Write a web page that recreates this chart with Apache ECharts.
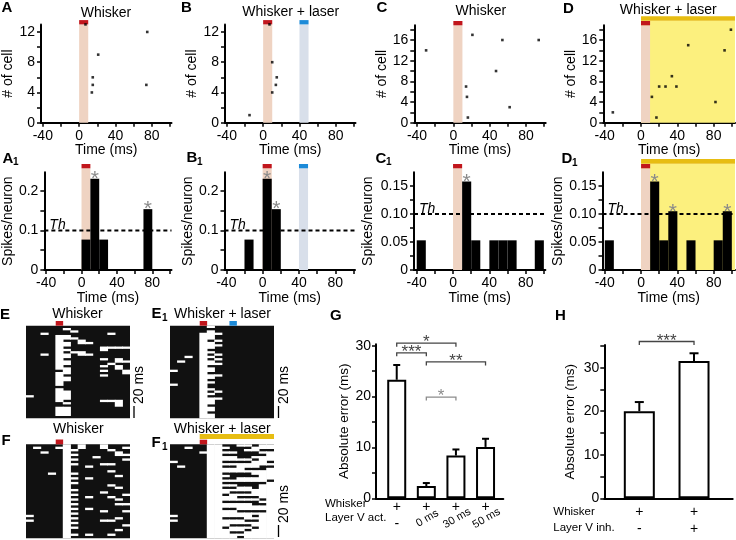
<!DOCTYPE html>
<html><head><meta charset="utf-8">
<script src="https://cdn.jsdelivr.net/npm/echarts@6/dist/echarts.min.js"></script>
<style>html,body{margin:0;padding:0;background:#fff}#c{width:736px;height:540px}</style>
</head><body><div id="c"></div>
<script>
// ================= DATA =================
const timeTicks = [-40,-20,0,20,40,60,80,100];
const timeLabels = [-40,0,40,80];
const cellTicks13 = [0,2,4,6,8,10,12];
const cellLabels13 = [0,4,8,12];
const cellTicks19 = [0,2,4,6,8,10,12,14,16,18];
const cellLabels19 = [0,4,8,12,16];
const rateTicksAB = [0,0.05,0.1,0.15,0.2];
const rateLabelsAB = [0,0.1,0.2];
const rateTicksCD = [0,0.025,0.05,0.075,0.1,0.125,0.15];
const rateLabelsCD = [0,0.05,0.1,0.15];
const errTicksG = [0,5,10,15,20,25,30];
const errTicksH = [0,5,10,15,20,25,30,35];
const errLabels = [0,10,20,30];

const binWidth = 10;
const rasterStart = -40;
const threshold = 0.1;
const whiskerWin = [0,10];
const laserWinB = [40,50];
const laserWinD = [0,140];
const laserWinF1 = [0,100];

// raster dots: [time (ms), cell #]
const dotsA = [[7,13],[21,9],[15,6],[15,5],[14,4],[75,12],[74,5]];
const dotsB = [[-15,1],[7,13],[10,8],[15,6],[14,5],[10,4]];
const dotsC = [[-30,14],[21,17],[54,16],[94,16],[47,10],[14,7],[15,5],[16,1],[62,3]];
const dotsD = [[-31,2],[12,5],[17,1],[20,7],[27,7],[34,9],[39,7],[52,15],[82,4],[92,14],[99,18]];

// PSTH bins: [bin start (ms), spikes/neuron]
const histA1 = [[0,0.077],[10,0.231],[20,0.077],[70,0.154]];
const histB1 = [[-20,0.077],[0,0.231],[10,0.154]];
const histC1 = [[-40,0.053],[10,0.158],[20,0.053],[40,0.053],[50,0.053],[60,0.053],[90,0.053]];
const histD1 = [[-40,0.053],[10,0.158],[20,0.053],[30,0.105],[50,0.053],[80,0.053],[90,0.105]];
const starBinsA1 = [10,70];
const starBinsB1 = [0,10];
const starBinsC1 = [10];
const starBinsD1 = [10,30,90];

// trial rasters (rows = trials, columns = 10 ms bins from -40 ms)
const rasterE = [
"00000000000000","00000100000000","00000010000000","00100000000100","00001100000000",
"00001110000000","00001001000000","00001101100000","00001100000000","00001000001111",
"00001100001000","00001011000000","00101101100000","00001100000000","00001000001010",
"00001100000011","00001100000100","00001000001010","00001100000010","00000100001001",
"00001100000001","00001000001000","00001100000000","00001100000000","00001000000000",
"00001000000000","00000000000000","00001000000000","00001100000000","00001100000000",
"10001100000000","00001100000000","00001000001110","00000100000010","00000000000010",
"00001100000000","00001100000000","00001100000000","00001100000000","00000000000000"];
const rasterE1 = [
"00000100000000","00000000000000","00000100000000","00001110000000","00001100000000",
"00001100000000","00001010000000","00001100000000","00001110000000","00001100000000",
"00001000000000","00001100000000","00001010000000","00101100000000","00001010000000",
"01001100000000","00001110000000","00001000000000","00001100000000","10001100000000",
"00001000000000","00001110000000","00001100000000","00001000000000","00001100000000",
"10001000000000","00001000000000","00001100000000","00001010000000","00001100000000",
"00001000000000","00001110000000","00001100000000","00001100000000","00001000000000",
"00001100000000","00001100000000","00001000000000","00001100000000","00001100000000"];
const rasterF = [
"00000101001000","01001101001001","00000110000100","00100100000010","00000110000011",
"00000100010000","00000110000001","00000100000000","00000110001100","00000100100000",
"00000100000000","00000100000100","00010110000000","00000100000010","00000110100000",
"00000100000000","00000110000000","00000100000100","00000100000010","00000110000000",
"00000100001000","00000110000001","00000100100100","00000110000010","00000100000000",
"00000110000011","00000100000000","00000110100000","00000100001001","00000110000000",
"10000100000000","00000110000010","10000100001100","00000110000000","00000100000001",
"00000110000000","00000100000010","00000100000000","00000110100100","00000100000000"];
const rasterF1 = [
"00000110011011","00100111000111","00000110001100","00001111100011","00000110000001",
"00000111100111","00000111111011","10000110000110","00000111111111","01000110011100",
"00000111110001","00000111111111","00000110000111","00000111000011","00000110011111",
"00000111111110","00000110000001","00000111100011","00000110011011","00000111111111",
"00000111000111","00000110111111","00000111100011","00000111111101","00000110000011",
"00000111111001","00000111111111","00000110011111","00000111100001","00000111111111",
"10000111111011","00000110001111","10000111110011","00000111111111","00000111000111",
"00000110111011","00000111110111","00000111001111","00000111111111","00000111101111"];

// summary bars
const gMean = [23.3, 2.4, 8.4, 10.1];
const gSem  = [2.9, 0.6, 1.2, 1.6];
const gWhiskerSigns = ['+','+','+','+'];
const gLayerSigns = ['-','0 ms','30 ms','50 ms'];
const gBrackets = [[0,2,30.5,'*'],[0,1,28.6,'***'],[1,3,26.8,'**'],[1,2,19.9,'*']];
const hMean = [20.0, 31.5];
const hSem  = [2.1, 1.8];
const hWhiskerSigns = ['+','+'];
const hLayerSigns = ['-','+'];
const hBrackets = [[0,1,36.0,'***']];

// ================= STYLE / LAYOUT =================
const FF = '"Liberation Sans", Arial, Helvetica, sans-serif';
const fnt = (s, w, st) => (st||'normal') + ' ' + (w||'normal') + ' ' + s + 'px ' + FF;
const C_PEACH = '#efd3c2', C_RED = '#c1161c', C_BLUEBAND = '#d8dfea', C_BLUE = '#1c8ad8',
      C_YELLOW = '#fcf07e', C_GOLD = '#e7bd12', C_STAR = '#8a8a8a';

const G = [], X = [], Y = [], S = [], GR = [];
const ext = [];
function addGrid(box, xa, ya, gOpt) {
  const gi = G.length;
  G.push(Object.assign({left:box[0], top:box[1], width:box[2], height:box[3]}, gOpt||{}));
  X.push(Object.assign({gridIndex:gi}, xa));
  Y.push(Object.assign({gridIndex:gi}, ya));
  ext.push({x:[xa.min, xa.max], y:[ya.min, ya.max]});
  return gi;
}
function valAxis(min, max, ticks, labels, fmt, name, nameGap, margin) {
  return {
    type:'value', min, max,
    axisLine:{show:true, onZero:false, lineStyle:{color:'#000', width:2}},
    axisTick:{show:true, inside:false, length:4, lineStyle:{color:'#000', width:1.5}, customValues: ticks},
    axisLabel:{show:true, color:'#000', fontSize:14, fontFamily:FF, margin: margin||6, customValues: labels,
               formatter: fmt || (v => String(v))},
    splitLine:{show:false},
    name: name||'', nameLocation:'middle', nameGap: nameGap||20,
    nameTextStyle:{color:'#000', fontSize:14, fontFamily:FF}
  };
}
function hiddenAxis(min, max, inverse) {
  return {type:'value', min, max, inverse: !!inverse, show:false, splitLine:{show:false}};
}
const fmtRateAB = v => (v === 0 ? '0' : (+v).toFixed(1));
const fmtRateCD = v => (v === 0 ? '0' : (+v).toFixed(2));

function stimLayer(gi, wins, bands, bars, above, barH, z) {
  const ex = ext[gi];
  S.push({type:'custom', xAxisIndex:gi, yAxisIndex:gi, z, clip:false, silent:true,
    data: wins.map((w,i)=>[w[0], w[1], i]),
    renderItem:(p, api)=>{
      const i = api.value(2);
      const x0 = Math.max(api.value(0), ex.x[0]), x1 = Math.min(api.value(1), ex.x[1]);
      const a = api.coord([x0, ex.y[1]]), b = api.coord([x1, ex.y[0]]);
      const top = Math.min(a[1], b[1]) - above, bot = Math.max(a[1], b[1]);
      const ch = [];
      if (bands[i]) ch.push({type:'rect', shape:{x:a[0], y:top, width:b[0]-a[0], height:bot-top}, style:{fill:bands[i]}});
      if (bars[i]) ch.push({type:'rect', shape:{x:a[0], y:top-barH, width:b[0]-a[0], height:barH}, style:{fill:bars[i]}});
      return {type:'group', children: ch};
    }});
}
function dotLayer(gi, dots) {
  S.push({type:'scatter', xAxisIndex:gi, yAxisIndex:gi, data:dots, symbol:'rect', symbolSize:2.6,
          itemStyle:{color:'#000'}, z:6, silent:true});
}
function histLayer(gi, hist, starBins) {
  const ex = ext[gi];
  S.push({type:'custom', xAxisIndex:gi, yAxisIndex:gi, z:5, silent:true, data:hist,
    renderItem:(p, api)=>{
      const s = api.value(0), v = api.value(1);
      const a = api.coord([s, v]), b = api.coord([s + binWidth, 0]);
      return {type:'rect', shape:{x:a[0], y:a[1], width:b[0]-a[0], height:b[1]-a[1]}, style:{fill:'#000'}};
    }});
  const stars = starBins.map(s => [s + binWidth/2, hist.find(h => h[0] === s)[1]]);
  S.push({type:'custom', xAxisIndex:gi, yAxisIndex:gi, z:7, clip:false, silent:true, data:stars,
    renderItem:(p, api)=>{
      const c = api.coord([api.value(0), api.value(1)]);
      return {type:'text', x:c[0], y:c[1] + 11, style:{text:'*', fill:C_STAR, font:fnt(21),
        align:'center', verticalAlign:'bottom', textAlign:'center', textVerticalAlign:'bottom'}};
    }});
  S.push({type:'custom', xAxisIndex:gi, yAxisIndex:gi, z:8, clip:false, silent:true,
    data:[[ex.x[0], ex.x[1], threshold]],
    renderItem:(p, api)=>{
      const a = api.coord([api.value(0), api.value(2)]), b = api.coord([api.value(1), api.value(2)]);
      return {type:'group', children:[
        {type:'line', shape:{x1:a[0], y1:a[1], x2:b[0], y2:b[1]}, style:{stroke:'#000', lineWidth:1.8, lineDash:[4,3]}},
        {type:'text', x:a[0] + 5, y:a[1] + 2, style:{text:'Th', fill:'#000', font:fnt(14,'normal','italic'),
          align:'left', verticalAlign:'bottom', textAlign:'left', textVerticalAlign:'bottom'}}
      ]};
    }});
}
function rasterLayer(gi, rows) {
  // merge vertically consecutive active bins of the same column into one run: [bin start, first row, last row + 1]
  const runs = [];
  const nCols = rows[0].length;
  for (let k = 0; k < nCols; k++) {
    let start = -1;
    for (let r = 0; r <= rows.length; r++) {
      const on = r < rows.length && rows[r][k] === '1';
      if (on && start < 0) start = r;
      if (!on && start >= 0) { runs.push([rasterStart + k*binWidth, start, r]); start = -1; }
    }
  }
  S.push({type:'custom', xAxisIndex:gi, yAxisIndex:gi, z:4, silent:true, data:runs,
    renderItem:(p, api)=>{
      const a = api.coord([api.value(0), api.value(1)]), b = api.coord([api.value(0) + binWidth, api.value(2)]);
      return {type:'rect', shape:{x:a[0] - 0.35, y:Math.min(a[1],b[1]), width:b[0]-a[0] + 0.7, height:Math.abs(b[1]-a[1])},
              style:{fill:'#fff'}};
    }});
}
function barLayer(gi, mean, sem, bw, cap, brackets, signs1, signs2, rowOff, rotateRow2) {
  S.push({type:'bar', xAxisIndex:gi, yAxisIndex:gi, data: mean.map((v,i)=>[i,v]), barWidth:bw, z:3, silent:true,
          itemStyle:{color:'#fff', borderColor:'#000', borderWidth:2}});
  S.push({type:'custom', xAxisIndex:gi, yAxisIndex:gi, z:4, silent:true, data: mean.map((v,i)=>[i,v,sem[i]]),
    renderItem:(p, api)=>{
      const a = api.coord([api.value(0), api.value(1)]), b = api.coord([api.value(0), api.value(1) + api.value(2)]);
      return {type:'group', children:[
        {type:'line', shape:{x1:a[0], y1:a[1], x2:b[0], y2:b[1]}, style:{stroke:'#000', lineWidth:2}},
        {type:'line', shape:{x1:b[0]-cap/2, y1:b[1], x2:b[0]+cap/2, y2:b[1]}, style:{stroke:'#000', lineWidth:2}}
      ]};
    }});
  S.push({type:'custom', xAxisIndex:gi, yAxisIndex:gi, z:4, clip:false, silent:true,
    data: brackets.map((b,i)=>[b[0], b[1], b[2], i]),
    renderItem:(p, api)=>{
      const i = api.value(3);
      const a = api.coord([api.value(0), api.value(2)]), b = api.coord([api.value(1), api.value(2)]);
      const col = (brackets === gBrackets && i === 3) ? '#8c8c8c' : '#444';
      return {type:'group', children:[
        {type:'polyline', shape:{points:[[a[0], a[1]+3.5],[a[0], a[1]],[b[0], b[1]],[b[0], b[1]+3.5]]}, style:{stroke:col, lineWidth:1.3, fill:null}},
        {type:'text', x:(a[0]+b[0])/2, y:a[1] + 8, style:{text:brackets[i][3], fill:col, font:fnt(17),
          align:'center', verticalAlign:'bottom', textAlign:'center', textVerticalAlign:'bottom'}}
      ]};
    }});
  S.push({type:'custom', xAxisIndex:gi, yAxisIndex:gi, z:4, clip:false, silent:true,
    data: mean.map((v,i)=>[i, 0, i]),
    renderItem:(p, api)=>{
      const i = api.value(2);
      const c = api.coord([api.value(0), 0]);
      const t2 = signs2[i];
      const rot = rotateRow2 && t2.length > 1;
      return {type:'group', children:[
        {type:'text', x:c[0], y:c[1] + rowOff[0], style:{text:signs1[i], fill:'#000', font:fnt(14),
          align:'center', verticalAlign:'middle', textAlign:'center', textVerticalAlign:'middle'}},
        {type:'text', x:c[0] + (rot ? 1 : 0), y:c[1] + rowOff[1] - (rot ? 6 : 0), rotation: rot ? Math.PI/6 : 0,
          style:{text:t2, fill:'#000', font:fnt(rot ? 11 : 14),
          align:'center', verticalAlign:'middle', textAlign:'center', textVerticalAlign:'middle'}}
      ]};
    }});
}
function txt(text, x, y, size, opt) {
  opt = opt || {};
  GR.push({type:'text', x, y, rotation: opt.rotation || 0, z:100, silent:true,
    style:{text, fill: opt.fill || '#000', font: fnt(size, opt.weight, opt.style),
      align: opt.align || 'left', verticalAlign: opt.va || 'middle',
      textAlign: opt.align || 'left', textVerticalAlign: opt.va || 'middle'}});
}
function letter(L, sub, x, y) {
  txt(L, x, y, 15, {weight:'bold'});
  if (sub) txt(sub, x + 10.5, y + 4, 10, {weight:'bold'});
}

// ---------- top row: raster dots ----------
const gA = addGrid([41,24.4,130.5,98.3], valAxis(-42,101.7,timeTicks,timeLabels,null,'Time (ms)',20),
                   valAxis(0,13,cellTicks13,cellLabels13,null,'# of cell',24));
const gB = addGrid([225,24.4,130.5,98.3], valAxis(-42,101.7,timeTicks,timeLabels,null,'Time (ms)',20),
                   valAxis(0,13,cellTicks13,cellLabels13,null,'# of cell',16.5));
const gC = addGrid([414.3,25.3,131.4,97.4], valAxis(-43,101.7,timeTicks,timeLabels,null,'Time (ms)',20),
                   valAxis(0,18.85,cellTicks19,cellLabels19,null,'# of cell',24));
const gD = addGrid([603.3,25.3,131.7,97.4], valAxis(-41.5,103.5,timeTicks,timeLabels,null,'Time (ms)',20),
                   valAxis(0,18.85,cellTicks19,cellLabels19,null,'# of cell',23));
// ---------- second row: PSTHs ----------
const gA1 = addGrid([41,172.3,130.5,97.7], valAxis(-42,101.7,timeTicks,timeLabels,null,'Time (ms)',21),
                    valAxis(0,0.2473,rateTicksAB,rateLabelsAB,fmtRateAB,'Spikes/neuron',24));
const gB1 = addGrid([224.5,172.3,130.5,97.7], valAxis(-42,101.7,timeTicks,timeLabels,null,'Time (ms)',21),
                    valAxis(0,0.2473,rateTicksAB,rateLabelsAB,fmtRateAB,'Spikes/neuron',29.5));
const gC1 = addGrid([414,172.3,131.4,97.7], valAxis(-43,101.7,timeTicks,timeLabels,null,'Time (ms)',21),
                    valAxis(0,0.1745,rateTicksCD,rateLabelsCD,fmtRateCD,'Spikes/neuron',38.5));
const gD1 = addGrid([602.5,172.3,132.5,97.7], valAxis(-42.5,103.5,timeTicks,timeLabels,null,'Time (ms)',21),
                    valAxis(0,0.1745,rateTicksCD,rateLabelsCD,fmtRateCD,'Spikes/neuron',36));
// ---------- rasters ----------
const rg = {show:true, backgroundColor:'#111', borderWidth:0};
const gE  = addGrid([26,325.7,104,92.6], hiddenAxis(-40,100), hiddenAxis(0,rasterE.length,true), rg);
const gE1 = addGrid([170,325.7,104,92.6], hiddenAxis(-40,100), hiddenAxis(0,rasterE1.length,true), rg);
const gF  = addGrid([26,444.3,104,94], hiddenAxis(-40,100), hiddenAxis(0,rasterF.length,true), rg);
const gF1 = addGrid([170,444.3,104,94], hiddenAxis(-40,100), hiddenAxis(0,rasterF1.length,true), rg);
// ---------- summary ----------
const xG = valAxis(-0.7,3.6,[],[],null,'',0); xG.axisTick.show = false; xG.axisLabel.show = false;
const gG = addGrid([376,344.3,127.3,154], xG, valAxis(0,30.27,errTicksG,errLabels,null,'Absolute error (ms)',22,5));
const xH = valAxis(-0.64,1.707,[],[],null,'',0); xH.axisTick.show = false; xH.axisLabel.show = false;
const gH = addGrid([604.3,345,128.4,153.3], xH, valAxis(0,35.2,errTicksH,errLabels,null,'Absolute error (ms)',27,5));
Y[gG].nameTextStyle.fontSize = 13.5; Y[gH].nameTextStyle.fontSize = 13.5;

// layers
stimLayer(gA, [whiskerWin], [C_PEACH], [C_RED], 0, 4.3, 1);
dotLayer(gA, dotsA);
stimLayer(gB, [whiskerWin, laserWinB], [C_PEACH, C_BLUEBAND], [C_RED, C_BLUE], 0, 4.3, 1);
dotLayer(gB, dotsB);
stimLayer(gC, [whiskerWin], [C_PEACH], [C_RED], 0, 4.3, 1);
dotLayer(gC, dotsC);
stimLayer(gD, [laserWinD], [C_YELLOW], [C_GOLD], 4.5, 4.5, 1);
stimLayer(gD, [whiskerWin], [C_PEACH], [C_RED], 0, 4.3, 2);
dotLayer(gD, dotsD);

stimLayer(gA1, [whiskerWin], [C_PEACH], [C_RED], 4, 4.3, 1);
histLayer(gA1, histA1, starBinsA1);
stimLayer(gB1, [whiskerWin, laserWinB], [C_PEACH, C_BLUEBAND], [C_RED, C_BLUE], 4, 4.3, 1);
histLayer(gB1, histB1, starBinsB1);
stimLayer(gC1, [whiskerWin], [C_PEACH], [C_RED], 4, 4.3, 1);
histLayer(gC1, histC1, starBinsC1);
stimLayer(gD1, [laserWinD], [C_YELLOW], [C_GOLD], 8.5, 4.7, 1);
stimLayer(gD1, [whiskerWin], [C_PEACH], [C_RED], 4, 4.3, 2);
histLayer(gD1, histD1, starBinsD1);

rasterLayer(gE, rasterE);   stimLayer(gE, [whiskerWin], [null], [C_RED], 0, 4.7, 5);
rasterLayer(gE1, rasterE1); stimLayer(gE1, [whiskerWin, laserWinB], [null, null], [C_RED, C_BLUE], 0, 4.7, 5);
rasterLayer(gF, rasterF);   stimLayer(gF, [whiskerWin], [null], [C_RED], 0, 4.8, 5);
rasterLayer(gF1, rasterF1); stimLayer(gF1, [laserWinF1], [null], [C_GOLD], 5.3, 5, 5);
stimLayer(gF1, [whiskerWin], [null], [C_RED], 0, 4.6, 6);

barLayer(gG, gMean, gSem, 19, 7, gBrackets, gWhiskerSigns, gLayerSigns, [9, 26], true);
barLayer(gH, hMean, hSem, 31, 9, hBrackets, hWhiskerSigns, hLayerSigns, [13.5, 30.5], false);

// ---------- text ----------
letter('A', null, 1.5, 8);   txt('Whisker', 106, 13.5, 14, {align:'center'});
letter('B', null, 181, 7.5); txt('Whisker + laser', 290.8, 12.5, 14, {align:'center'});
letter('C', null, 376.5, 8); txt('Whisker', 480.8, 11.5, 14, {align:'center'});
letter('D', null, 563, 8.5); txt('Whisker + laser', 668.3, 10.3, 14, {align:'center'});
letter('A', '1', 2.5, 158.5);
letter('B', '1', 186.5, 158);
letter('C', '1', 375.5, 158.5);
letter('D', '1', 561.5, 159);
letter('E', null, 0, 315);   txt('Whisker', 77.5, 314.5, 14, {align:'center'});
letter('E', '1', 151.5, 314); txt('Whisker + laser', 222.5, 314.5, 14, {align:'center'});
letter('F', null, 1.5, 441); txt('Whisker', 78.3, 428.7, 14, {align:'center'});
letter('F', '1', 151.5, 443); txt('Whisker + laser', 222.2, 429, 14, {align:'center'});
letter('G', null, 330, 316);
letter('H', null, 555, 316);
// scale bars on rasters
txt('20 ms', 139.5, 404, 14, {rotation:Math.PI/2, align:'left'});
GR.push({type:'line', shape:{x1:134, y1:406, x2:134, y2:418}, style:{stroke:'#000', lineWidth:1.3}, silent:true});
txt('20 ms', 284, 404, 14, {rotation:Math.PI/2, align:'left'});
GR.push({type:'line', shape:{x1:278.5, y1:406, x2:278.5, y2:418}, style:{stroke:'#000', lineWidth:1.3}, silent:true});
txt('20 ms', 284, 523, 14, {rotation:Math.PI/2, align:'left'});
GR.push({type:'line', shape:{x1:278.5, y1:525, x2:278.5, y2:537}, style:{stroke:'#000', lineWidth:1.3}, silent:true});
// row labels
txt('Whisker', 325, 504, 11.5);
txt('Layer V act.', 325, 518, 11.5);
txt('Whisker', 553.3, 511.7, 11.5);
txt('Layer V inh.', 553.3, 528.3, 11.5);

const chart = echarts.init(document.getElementById('c'), null, {renderer:'canvas'});
chart.setOption({animation:false, backgroundColor:'#fff', grid:G, xAxis:X, yAxis:Y, series:S, graphic:{elements:GR}});
</script>
</body></html>
